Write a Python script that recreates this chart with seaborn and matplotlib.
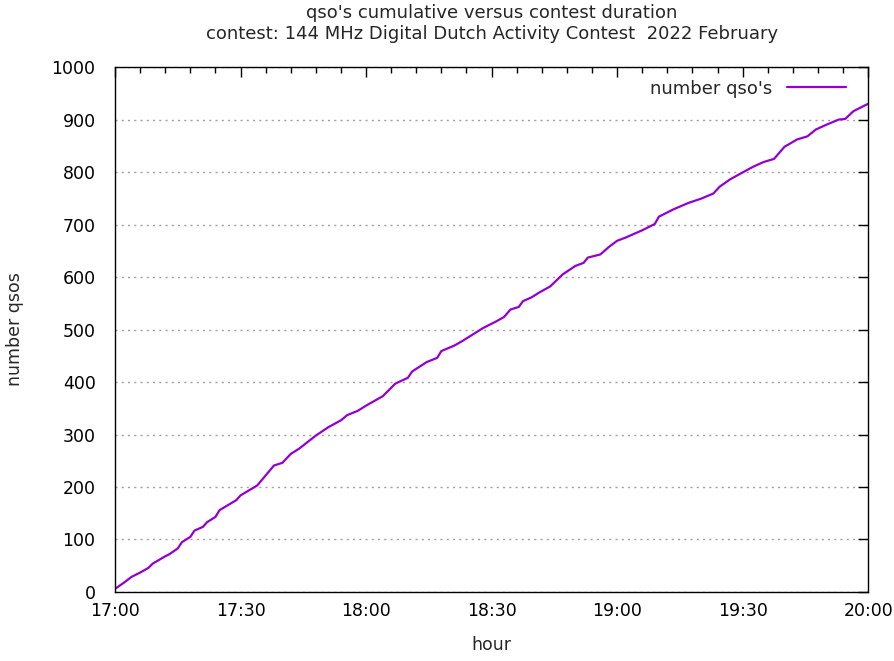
import matplotlib
matplotlib.use("Agg")
import matplotlib.pyplot as plt
import matplotlib.dates as mdates
import pandas as pd
import seaborn as sns

# minutes after 17:00 and cumulative qso count
minutes = [0, 2, 4, 6, 8, 9, 12, 13, 15, 16, 18, 19, 21, 22, 24, 25, 29, 30,
           34, 36, 38, 40, 42, 44, 48, 51, 54, 55.5, 58, 60, 64, 67, 70, 71,
           74.5, 77, 78, 81, 83, 85, 88, 91, 93, 94.5, 96.5, 97.5, 99.5, 101.5,
           104, 107, 110, 112, 113, 116, 118, 120, 122, 126, 129, 130, 133.5,
           137, 140, 143, 144.5, 147, 149.5, 152.5, 155, 157.5, 160, 163,
           165.5, 167.5, 170, 173, 174.5, 176.5, 180]
qsos = [6, 17, 29, 37, 46, 54, 68, 72, 83, 95, 105, 117, 124, 133, 143, 156,
        175, 184, 203, 222, 241, 246, 263, 273, 298, 314, 327, 337, 345, 355,
        373, 397, 408, 420, 438, 446, 459, 469, 478, 488, 503, 515, 524, 538,
        543, 554, 561, 571, 582, 605, 621, 627, 637, 643, 657, 669, 675, 689,
        701, 715, 729, 741, 749, 759, 772, 786, 797, 810, 819, 825, 848, 862,
        868, 881, 890, 900, 901, 916, 930]

start = pd.Timestamp("2022-02-01 17:00")
df = pd.DataFrame({
    "hour": start + pd.to_timedelta(minutes, unit="m"),
    "number qsos": qsos,
})

sns.set_style("white")
plt.rcParams["font.family"] = ["DejaVu Sans"]

fig = plt.figure(figsize=(8.95, 6.61), dpi=100)
ax = fig.add_axes([0.1285, 0.1044, 0.8415, 0.7942])

sns.lineplot(data=df, x="hour", y="number qsos", color="#9400D3",
             linewidth=1.6, label="number qso's", ax=ax)

ax.set_xlim(start, start + pd.Timedelta(minutes=180))
ax.set_ylim(0, 1000)
ax.set_yticks(range(0, 1001, 100))
ax.xaxis.set_major_locator(mdates.MinuteLocator(byminute=[0, 30]))
ax.xaxis.set_minor_locator(mdates.MinuteLocator(byminute=range(0, 60, 6)))
ax.xaxis.set_major_formatter(mdates.DateFormatter("%H:%M"))

ax.tick_params(which="both", direction="in", top=True, right=True,
               labelsize=12.5, colors="black", pad=7)
ax.tick_params(axis="y", pad=14)
ax.tick_params(which="major", length=7, width=1)
ax.tick_params(which="minor", length=4, width=1)
for s in ax.spines.values():
    s.set_color("black")
    s.set_linewidth(1)

ax.yaxis.grid(True, linestyle=(0, (1.5, 3)), color="#a0a0a0", linewidth=1)
ax.xaxis.grid(False)

ax.set_xlabel("hour", fontsize=12.5, labelpad=12)
ax.set_ylabel("number qsos", fontsize=12.5, labelpad=20)
ax.set_title("qso's cumulative versus contest duration\n"
             "contest: 144 MHz Digital Dutch Activity Contest  2022 February",
             fontsize=13, pad=20, linespacing=1.2)

ax.legend(loc="upper right", frameon=False, markerfirst=False, fontsize=13,
          handlelength=3.3, borderaxespad=0.3, bbox_to_anchor=(0.988, 1.0))

fig.savefig("out.png", dpi=100)
